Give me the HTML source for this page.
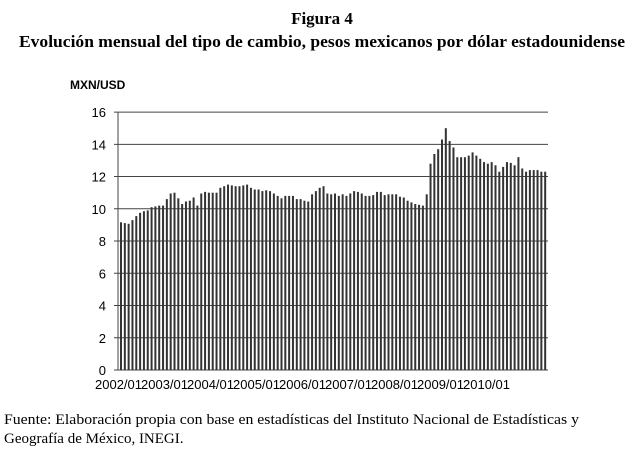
<!DOCTYPE html><html><head><style>body{margin:0;background:#fff;width:628px;height:452px;overflow:hidden;font-family:"Liberation Serif",serif}</style></head><body>
<svg width="628" height="452" xmlns="http://www.w3.org/2000/svg" font-family="Liberation Serif, serif">
<text x="322" y="24" text-anchor="middle" font-weight="bold" font-size="17">Figura 4</text>
<text x="322" y="47" text-anchor="middle" font-weight="bold" font-size="17" textLength="606" lengthAdjust="spacingAndGlyphs">Evolución mensual del tipo de cambio, pesos mexicanos por dólar estadounidense</text>
<text x="70" y="89" font-weight="bold" font-size="12" font-family="Liberation Sans, sans-serif">MXN/USD</text>
<g id="g" stroke="#000" stroke-width="1"></g>
<g id="b"></g>
<g font-size="13" font-family="Liberation Sans, sans-serif" text-anchor="end" id="yl"></g>
<g font-size="13" font-family="Liberation Sans, sans-serif" id="xl"></g>
<text x="4" y="424" font-size="15" textLength="575" lengthAdjust="spacingAndGlyphs">Fuente: Elaboración propia con base en estadísticas del Instituto Nacional de Estadísticas y</text>
<text x="4" y="443" font-size="15">Geografía de México, INEGI.</text>
</svg>
<script>
var NS="http://www.w3.org/2000/svg";function el(t,a,p){var e=document.createElementNS(NS,t);for(var k in a)e.setAttribute(k,a[k]);document.getElementById(p).appendChild(e);return e}
var y0=370,s=16.12,x0=118,x1=548;
for(var i=0;i<=8;i++){var y=y0-i*2*s;el("line",{x1:x0-4,x2:x1,y1:y,y2:y,stroke:"#444"},"g");var t=el("text",{x:106,y:y+5},"yl");t.textContent=i*2;}
el("line",{x1:x0,x2:x0,y1:112,y2:370,stroke:"#444"},"g");
var d=[9.16,9.11,9.07,9.3,9.55,9.75,9.85,9.9,10.1,10.15,10.2,10.2,
10.6,10.95,11.0,10.65,10.3,10.45,10.5,10.7,10.2,10.95,11.05,11.0,
11.0,11.0,11.3,11.4,11.5,11.45,11.4,11.4,11.45,11.5,11.3,11.2,
11.2,11.1,11.15,11.1,10.95,10.8,10.65,10.8,10.8,10.8,10.6,10.6,
10.5,10.45,10.9,11.1,11.3,11.4,10.95,10.9,10.95,10.8,10.9,10.8,
10.95,11.1,11.05,10.95,10.8,10.8,10.85,11.05,11.05,10.85,10.9,10.9,
10.9,10.75,10.7,10.5,10.4,10.3,10.25,10.2,10.9,12.8,13.4,13.7,
14.3,15.0,14.2,13.8,13.2,13.2,13.2,13.3,13.5,13.3,13.1,12.9,
12.8,12.9,12.7,12.3,12.6,12.9,12.85,12.7,13.2,12.5,12.3,12.4,
12.4,12.4,12.3,12.3];
var w=(x1-x0-2)/d.length;
d.forEach(function(v,i){var x=x0+2+i*w;el("rect",{x:x.toFixed(2),y:(y0-v*s).toFixed(1),width:2,height:(v*s).toFixed(1),fill:"#333"},"b");});
for(var k=0;k<9;k++){var t=el("text",{x:(95+k*46),y:389,textLength:47,lengthAdjust:"spacingAndGlyphs"},"xl");t.textContent=(2002+k)+"/01";}
</script>
</body></html>
